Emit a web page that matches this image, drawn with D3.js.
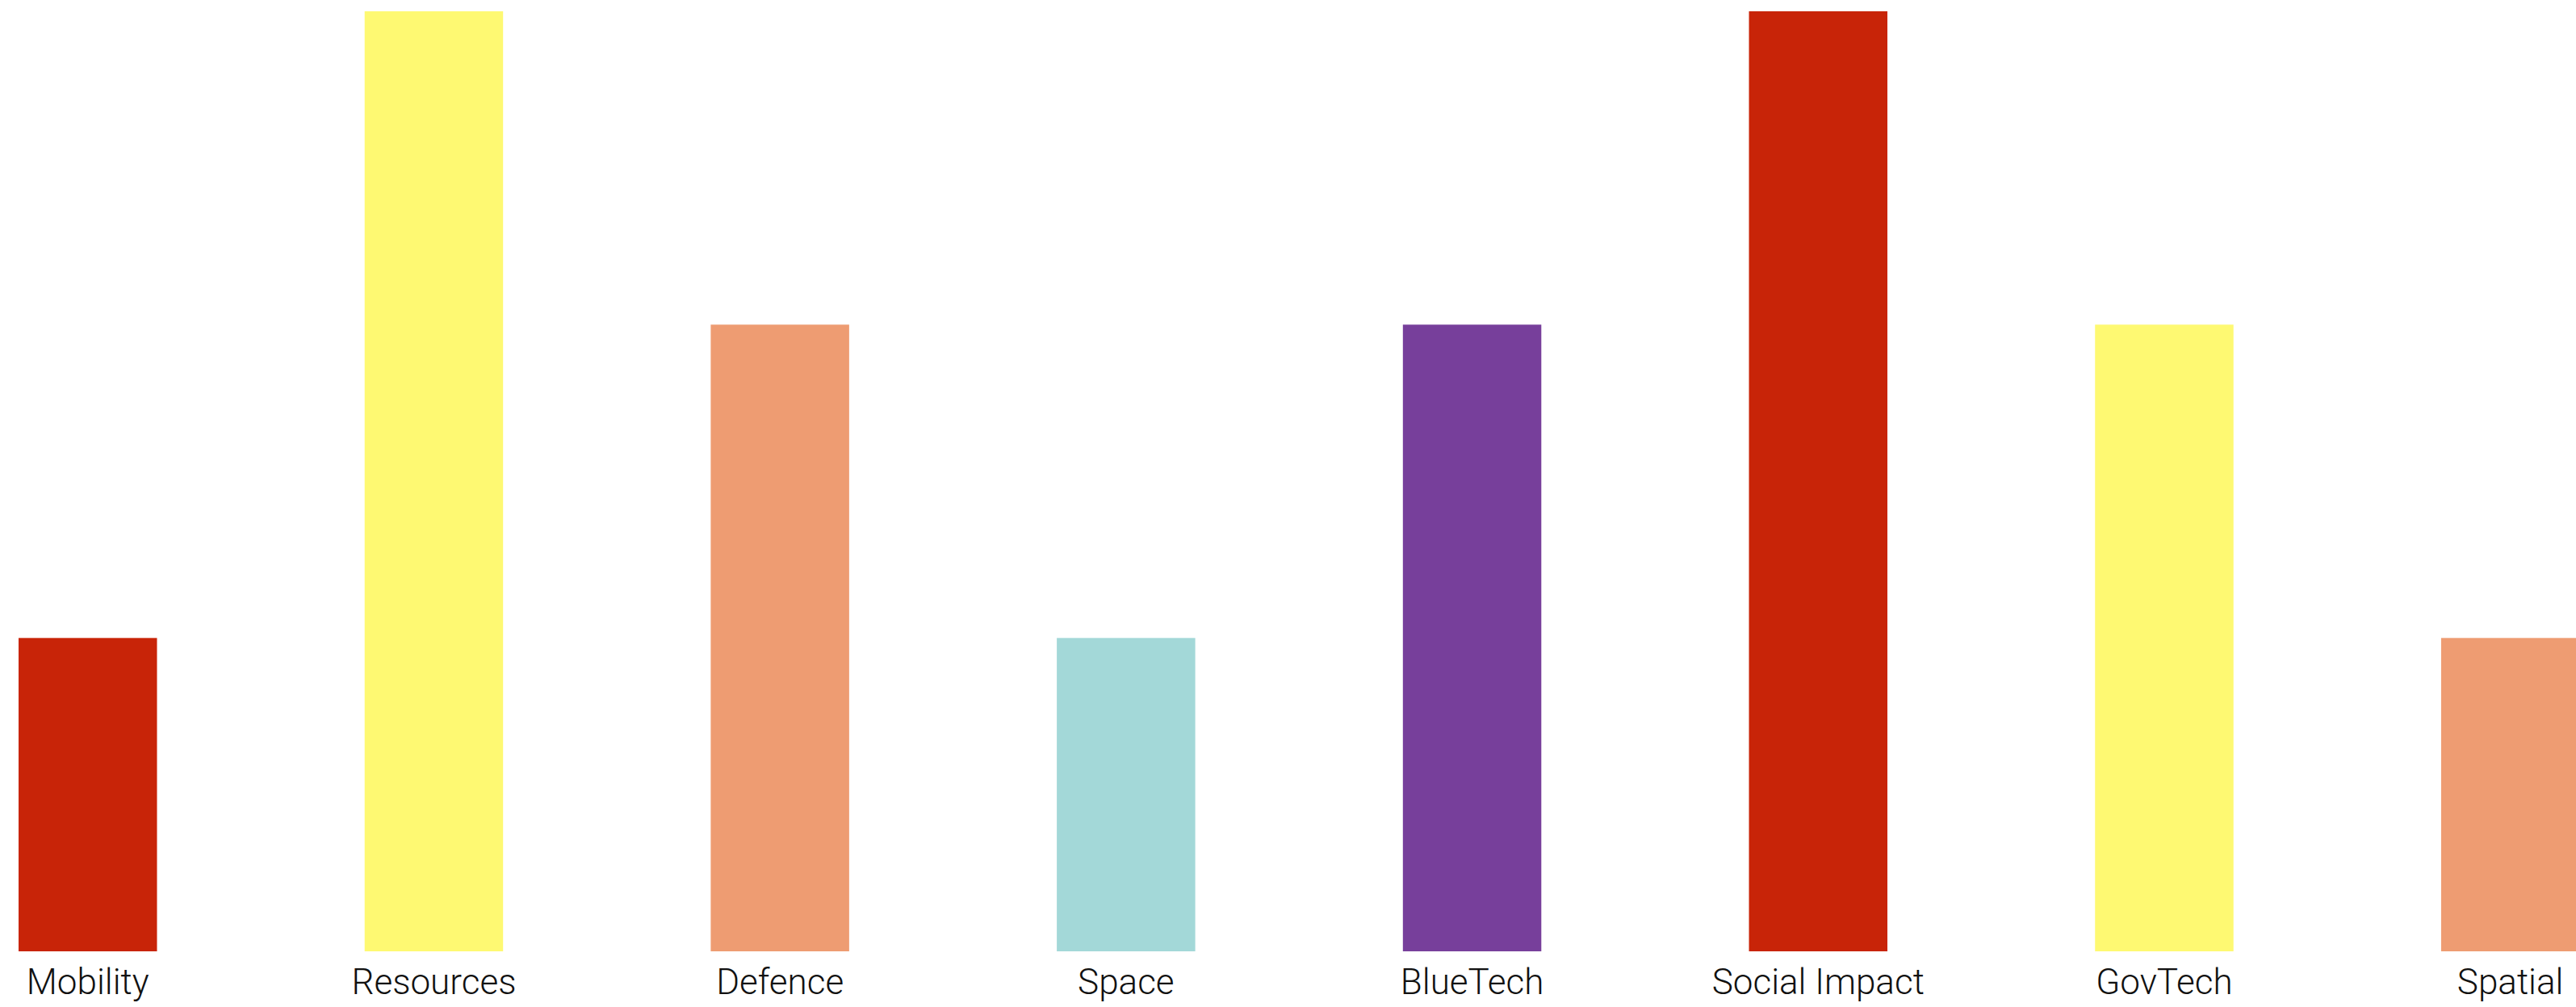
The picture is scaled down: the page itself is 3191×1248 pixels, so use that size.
<!DOCTYPE html>
<html>
<head>
<meta charset="utf-8">
<script src="https://cdn.jsdelivr.net/npm/d3@7"></script>
<style>
  html, body { margin: 0; padding: 0; background: #ffffff; overflow: hidden; }
  svg { display: block; }
</style>
</head>
<body>
<svg id="chart" width="3191" height="1248"></svg>
<script>
const categories = ["Mobility", "Resources", "Defence", "Space", "BlueTech", "Social Impact", "GovTech", "Spatial"];
const values = [1, 3, 2, 1, 2, 3, 2, 1];
const colors = ["#C82408", "#FEF972", "#EE9C72", "#A3D8D8", "#773F9B", "#C82408", "#FEF972", "#EE9C72"];

const svg = d3.select("#chart");

const x = d3.scaleBand()
  .domain(categories)
  .range([23, 3195.4])
  .paddingInner(0.6)
  .paddingOuter(0);

const y = d3.scaleLinear()
  .domain([0, 3])
  .range([1179, 14]);

const data = categories.map((c, i) => ({ c, v: values[i], col: colors[i] }));

svg.append("g")
  .selectAll("rect")
  .data(data)
  .join("rect")
  .attr("x", d => x(d.c))
  .attr("y", d => y(d.v))
  .attr("width", x.bandwidth())
  .attr("height", d => y(0) - y(d.v))
  .attr("fill", d => d.col);

const xAxis = d3.axisBottom(x).tickSize(0).tickPadding(0);
const ax = svg.append("g")
  .attr("transform", `translate(0, ${y(0)})`)
  .call(xAxis);
ax.select(".domain").remove();
ax.selectAll("text")
  .attr("y", 53)
  .attr("dy", 0)
  .attr("fill", "#111")
  .style("font-family", "Roboto, 'Liberation Sans', Helvetica, Arial, sans-serif")
  .style("font-size", "44px")
  .style("font-weight", "300");
</script>
</body>
</html>
